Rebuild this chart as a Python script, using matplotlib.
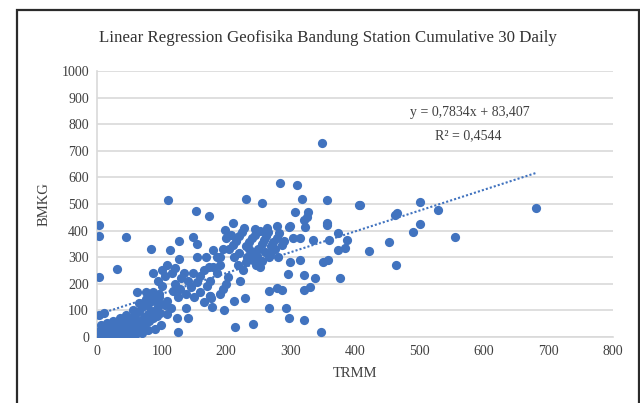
import matplotlib
matplotlib.use("Agg")
import matplotlib.pyplot as plt
from matplotlib.patches import Rectangle
import numpy as np

plt.rcParams['font.family'] = ['Liberation Serif', 'DejaVu Serif']

# TRMM (x) vs BMKG (y)
trmm = [
    348, 284, 310, 110, 231, 255, 317, 357, 406, 153, 173,
    2, 2, 44, 2, 30, 83, 3, 10, 125, 214, 242, 347,
    266, 292, 298, 321, 197, 212, 229, 175, 178,
    266, 279, 287, 320, 330, 338, 321, 376,
    358, 350, 373, 384, 387, 373, 360, 357, 335,
    325, 327, 320, 322, 307, 299, 279,
    408, 500, 529, 465, 462, 501, 489, 555, 452, 422, 463, 680,
    298, 357, 211, 198, 263, 315, 304,
    180, 180, 175, 175, 222, 253, 226, 203, 232, 191, 296, 299, 315,
    205, 210, 215, 220, 225, 230, 235, 240, 245, 250, 255, 258, 262, 265,
    270, 273, 278, 282, 286, 290, 240, 248, 260, 268, 276, 212, 220, 200,
    208, 228, 244, 252, 236, 218, 230, 242, 256, 266, 280, 246,
    113, 126, 148, 154, 155, 108, 127, 86, 94, 116, 134, 148, 145, 118,
    155, 174, 176, 62, 75, 86, 72, 108, 137, 140, 124, 108,
    100, 105, 120, 130, 140, 160, 165, 170, 185, 190, 195, 160, 150, 138,
    125, 100, 95, 105, 115, 90, 185, 195, 168, 200, 190, 165, 120, 128,
    0, 2, 4, 7, 8, 11, 13, 14, 17, 18, 21, 22, 24, 27, 28, 31, 32, 34,
    37, 38, 41, 42, 45, 46, 48, 51, 52, 54, 57, 58, 61, 62, 64, 67, 68,
    70, 73, 74, 77, 78, 80, 82, 84, 87, 88, 91, 92, 94, 96, 98,
    5, 15, 25, 36, 45, 55, 65, 76, 85, 95, 3, 9, 19, 29, 39, 49, 59, 69,
    79, 89, 99,
]
bmkg = [
    728, 578, 570, 515, 520, 503, 520, 514, 495, 472, 456,
    422, 378, 374, 225, 256, 330, 83, 90, 17, 38, 50, 17,
    110, 110, 72, 64, 102, 136, 148, 152, 114,
    174, 182, 178, 178, 189, 223, 231, 223,
    288, 280, 326, 333, 364, 390, 364, 420, 364,
    451, 470, 439, 413, 470, 417, 417,
    496, 508, 477, 466, 460, 424, 394, 376, 356, 322, 269, 485,
    413, 428, 428, 401, 409, 371, 371,
    326, 261, 212, 155, 212, 261, 250, 224, 299, 299, 238, 280, 288,
    330, 345, 360, 380, 395, 340, 355, 370, 385, 330, 350, 365, 378, 395,
    340, 358, 372, 390, 345, 360, 318, 305, 320, 310, 330, 300, 315, 370,
    385, 410, 405, 398, 330, 270, 280, 290, 285, 300, 300, 270,
    325, 360, 375, 348, 299, 269, 292, 242, 212, 239, 239, 239, 186, 174,
    205, 261, 148, 167, 167, 167, 129, 136, 110, 72, 72, 87,
    250, 230, 260, 220, 210, 230, 250, 190, 240, 270, 180, 170, 150, 160,
    150, 190, 160, 120, 110, 140, 300, 330, 300, 200, 160, 130, 200, 180,
    0, 6, 13, 3, 22, 9, 31, 16, 2, 26, 11, 41, 19, 4, 36, 23, 12, 46,
    28, 7, 52, 33, 15, 62, 39, 21, 72, 46, 24, 82, 56, 31, 96, 61, 41,
    112, 76, 51, 121, 86, 59, 131, 96, 71, 141, 101, 79, 116, 151, 91,
    46, 51, 61, 71, 81, 101, 126, 141, 156, 126, 21, 36, 1, 8, 3, 11, 6, 16,
    26, 31, 46,
]

slope = 0.7834
intercept = 83.407
r2 = 0.4544

blue = '#4173BF'
grey_txt = '#404040'

fig = plt.figure(figsize=(6.4, 4.03), dpi=100)
ax = fig.add_axes([0.152, 0.164, 0.806, 0.660])

ax.scatter(trmm, bmkg, s=44, color=blue, linewidths=0, zorder=3)

xs = np.array([min(trmm), max(trmm)])
ax.plot(xs, slope * xs + intercept, color=blue, linestyle=(0, (1, 1)),
        linewidth=1.5, zorder=2)

ax.set_xlim(0, 800)
ax.set_ylim(0, 1000)
ax.set_xticks(range(0, 801, 100))
ax.set_yticks(range(0, 1001, 100))
ax.grid(axis='y', color='#d9d9d9', linewidth=1.2)
ax.set_axisbelow(True)
for side in ['top', 'right']:
    ax.spines[side].set_visible(False)
for side in ['left', 'bottom']:
    ax.spines[side].set_color('#d9d9d9')
    ax.spines[side].set_linewidth(1.2)
ax.tick_params(length=0, labelsize=10, colors=grey_txt, pad=6)

ax.set_xlabel('TRMM', fontsize=10.5, color=grey_txt, labelpad=6)
ax.set_ylabel('BMKG', fontsize=10.5, color=grey_txt, labelpad=8)

ax.text(577, 842, 'y = 0,7834x + 83,407', ha='center', va='center',
        fontsize=10, color=grey_txt)
ax.text(575, 756, 'R² = 0,4544', ha='center', va='center',
        fontsize=10, color=grey_txt)

fig.text(0.512, 0.906, 'Linear Regression Geofisika Bandung Station Cumulative 30 Daily',
         ha='center', va='center', fontsize=12.2, color='#333333')

fig.add_artist(Rectangle((17 / 640, -0.05), 622 / 640, 1.05 - 10 / 403,
                         transform=fig.transFigure, fill=False,
                         edgecolor='#2b2b2b', linewidth=1.6, clip_on=False))

fig.savefig('out.png', dpi=100)
